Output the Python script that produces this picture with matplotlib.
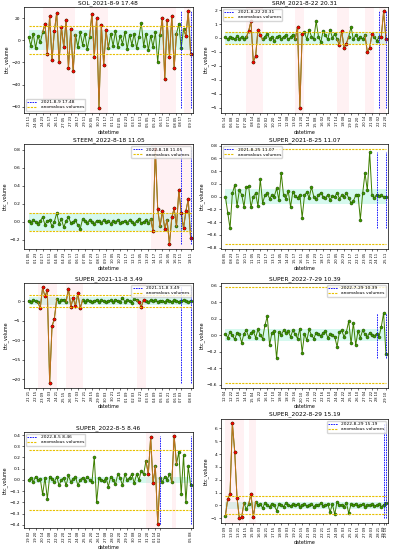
import matplotlib
matplotlib.use("Agg")
import matplotlib.pyplot as plt
import matplotlib.dates as mdates
import numpy as np
import pandas as pd

# values (one list per coin panel)
sol_vals = [3, -5, 6, -7, 4, -2, 7,
            15, -12, 22, -18, 8, 25, -20, 12, -6, 18, -25, 10, -28,
            5, -6, 7, -4, 6, -8, 3,
            24, -15, 20, -61, 14, -22, 9,
            -7, 6, -5, 8, -6, 4, -3, 7, -8, 5, -4, 6, -7, 3, 16, -5, 6, -9, 4, -6, 7, -20, 5,
            20, -35, 18, -15, 22, -25,
            6, 15, -7, 10, 4, 26, -12]
srm_vals = [0.05, -0.1, 0.1, 0.0, -0.08, 0.12, -0.05, 0.08, -0.1, 0.05,
            0.5, 1.2, -1.7, -1.3, 0.6, 0.2,
            -0.1, 0.1, 0.3, -0.05, 0.1, -0.2, 0.05, 0.15, -0.08, 0.1, 0.2, -0.1, 0.05, 0.25, -0.1,
            0.8, -5.0, 0.3,
            0.4, -0.1, 0.6, 0.1, -0.05,
            1.2,
            0.1, -0.3, 0.5, 0.2, -0.1, 0.6, 0.0, 0.3, -0.1,
            -0.5, 0.5, -0.7, -0.4,
            0.1, 0.8, -0.1, 0.2, -0.05, 0.1, -0.1, 0.2,
            -1.0, -0.7, 0.3,
            0.1, -0.2, 0.05, 0.1, 1.9, -0.1]
steem_vals = [0.01, -0.01, 0.02, 0.0, -0.02, 0.01, 0.05, -0.03, 0.01, 0.02,
              -0.05, 0.0, 0.10, -0.02, 0.03, -0.06, 0.01, 0.05, -0.01, 0.0,
              0.02, -0.04, -0.08, 0.03, 0.01, -0.01, 0.02, 0.0, -0.02, 0.01,
              0.01, -0.01, 0.02, 0.0, 0.01, -0.02, 0.01, 0.0, 0.02, -0.01,
              0.0, 0.01, -0.01, 0.02, 0.0, -0.02, 0.01, 0.03, -0.01, 0.0,
              0.02, -0.01, 0.03, -0.1, 0.81, 0.14,
              -0.05, 0.12, -0.08, 0.02,
              -0.25, 0.05, 0.15, -0.05,
              0.35, 0.1, -0.07, 0.12, 0.25, -0.18]
super1_vals = [0.0, -0.25, -0.5, 0.05, 0.18, -0.15, 0.1, 0.03, -0.16, 0.15,
               0.16, -0.17, 0.0, 0.05, -0.15, 0.27, -0.1, 0.02, 0.05, -0.03,
               0.02, 0.0, 0.13, -0.05, 0.37, 0.02, -0.03, 0.09, -0.16, 0.08,
               0.01, -0.02, 0.03, -0.33, 0.02, 0.07, -0.02, 0.15, 0.0, -0.04,
               0.02, 0.06, 0.0, -0.02, 0.03, -0.05, 0.01, 0.0, 0.06, -0.03,
               0.02, 0.0, 0.05, -0.02, -0.1, -0.07, 0.02, 0.03, -0.36, 0.05,
               0.37, 0.1, 0.7, 0.02, -0.02, 0.03, 0.01, 0.02, -0.01, 0.0]
super2_vals = [0.1, -0.2, 0.3, 0.0, -0.3,
               -1.8, 3.5, 1.2, 2.8, -21.0, -6.5, -4.5,
               0.5, -0.3, 0.2, 0.4, -0.2,
               3.2, -1.5, 0.8, -1.2, 2.0, -1.8,
               0.2, -0.1, 0.3, 0.0, -0.2, 0.1, 0.3, -0.1, 0.2, 0.0, -0.2, 0.1,
               0.2, -0.3, 0.4, 0.1, -0.2, 0.9, -0.1, 0.3, 0.0, -0.4, 0.6, 0.2,
               -0.3, -1.5, 0.4,
               0.1, -0.2, 0.3, 0.0, 0.2, -0.1, 0.1, 0.0, -0.2, 0.3, 0.1, -0.1,
               0.2, 0.0, -0.1, 0.1, 0.3, 0.0, -0.2, 0.1]
super3_vals = [0.02, -0.03, 0.04, 0.0, -0.05, 0.03, 0.01, -0.09, 0.02, 0.06,
               -0.02, 0.03, 0.05, -0.03, 0.07, 0.0, -0.04, 0.12, 0.23, -0.12,
               0.03, 0.05, -0.28, 0.04, 0.0, 0.06, 0.03, 0.05, -0.02, 0.06,
               0.01, -0.04, 0.08, -0.21, 0.02, -0.06, 0.07, 0.0, -0.04, 0.03,
               0.02, -0.01, 0.03, 0.05, -0.03, 0.01, 0.0, -0.02, -0.14, 0.04,
               0.06, -0.02, 0.04, 0.17, -0.1, 0.15, -0.12, 0.05, -0.03, 0.06,
               0.01, -0.02, 0.03, 0.0, -0.01, 0.02, -0.02, 0.1, 0.27, -0.23]
super4_vals = [0.0, 0.02, -0.02, 0.03, 0.0, 0.01, -0.13, 0.02, -0.17, 0.03,
               0.01, -0.02, 0.03, -0.05, 0.0, 0.02, -0.05, 0.04, -0.02, 0.01,
               0.03, -0.05, 0.0, 0.02, -0.01, 0.03, 0.0, -0.02, 0.2, -0.2,
               0.02, 0.0, -0.01, 0.02, -0.06, 0.03, 0.0, -0.04, 0.05, 0.02,
               -0.05, 0.05, 0.0, 0.02, 0.05, -0.03, 0.05, 0.0, 0.08, 0.05,
               0.17, 0.05, 0.38, -0.03, 0.12, -0.39,
               0.02, -0.02, 0.03, 0.0, 0.05, -0.02,
               0.39, 0.14, 0.25, -0.13, 0.22, -0.2, 0.12, -0.05]
super5_vals = [-0.8, 0.5, 0.9, 6.4, 4.2, 0.6, -1.0, -0.9,
               0.2, -0.3, 0.1, 0.9, -0.9, 0.3, 0.0,
               0.1, -0.2, 0.2, 0.0, -0.1, 0.15, 0.0, -0.4, 0.1, 0.05, -0.1, 0.2, 0.0, -0.05, 0.1,
               0.0, 0.1, -0.1, 0.05, 0.15, -0.05, 0.0, 0.1, -0.1, 0.05, 0.0, 0.2, -0.05, 0.0, 0.1,
               -0.5, 0.1, -0.7, 0.3, 0.0,
               0.05, -0.1, 0.2, -0.6, 0.1, 0.0, 0.15, -0.05, 0.0, 0.1,
               -0.1, 0.05, 0.0, 0.1, -0.05, 0.0, 0.1, -0.1, 0.05, 0.2]

titles = ["SOL_2021-8-9 17.48", "SRM_2021-8-22 20.31", "STEEM_2022-8-18 11.05",
          "SUPER_2021-8-25 11.07", "SUPER_2021-11-8 3.49", "SUPER_2022-7-29 10.39",
          "SUPER_2022-8-5 8.46", "SUPER_2022-8-29 15.19"]
legend_dates = ["2021-8-9 17.48", "2021-8-22 20.31", "2022-8-18 11.05", "2021-8-25 11.07",
                "2021-11-8 3.49", "2022-7-29 10.39", "2022-8-5 8.46", "2022-8-29 15.19"]
series = [sol_vals, srm_vals, steem_vals, super1_vals,
          super2_vals, super3_vals, super4_vals, super5_vals]
thresholds = [12.5, 0.45, 0.1, 0.75, 1.5, 0.58, 0.27, 0.7]
bands = [9, 0.45, 0.1, 0.12, 1.0, 0.07, 0.03, 0.25]
anomaly_spans = [[(7, 19), (27, 33), (57, 62), (67, 69)],
                 [(10, 15), (31, 33), (49, 52), (61, 63), (67, 69)],
                 [(53, 55), (57, 58), (60, 62), (64, 69)],
                 [],
                 [(5, 11), (17, 22), (47, 49)],
                 [],
                 [(51, 53), (55, 55), (62, 62)],
                 [(1, 7), (11, 12)]]
marker_idx = [(65, 69), (66, 69), (65, 69), (65, 69), (65, 69), (65, 69), (56, 69), (68, 69)]
legend_locs = ["lower left", "upper left", "upper right", "upper left",
               "upper right", "upper right", "upper left", "upper right"]

# axes boxes in figure fractions [left, bottom, width, height]
boxes = [[0.060, 0.795, 0.426, 0.193], [0.556, 0.795, 0.422, 0.193],
         [0.060, 0.547, 0.426, 0.191], [0.556, 0.547, 0.422, 0.191],
         [0.060, 0.295, 0.426, 0.191], [0.556, 0.295, 0.422, 0.191],
         [0.060, 0.040, 0.426, 0.175], [0.556, 0.049, 0.422, 0.190]]

fig = plt.figure(figsize=(3.97, 5.5), dpi=100)

for k in range(8):
    ax = fig.add_axes(boxes[k])
    vals = np.array(series[k])
    n = len(vals)
    end = pd.Timestamp(legend_dates[k].replace(".", ":"))
    x = pd.date_range(end=end, periods=n, freq="6h")
    thr = thresholds[k]
    band = bands[k]

    ax.fill_between(x, -band, band, color="#c4f7e8", alpha=0.7, lw=0)
    for a, b in anomaly_spans[k]:
        ax.axvspan(x[max(a - 1, 0)], x[min(b + 1, n - 1)], color="pink", alpha=0.22, lw=0)

    ax.plot(x, vals, color="#3f7f00", lw=0.7, marker="o", ms=2.2,
            mfc="#3c9a00", mec="#1c3c00", mew=0.3)
    for a, b in anomaly_spans[k]:
        lo, hi = max(a - 1, 0), min(b + 1, n - 1)
        ax.plot(x[lo:hi + 1], vals[lo:hi + 1], color="#c2701e", lw=0.7)
        ax.plot(x[a:b + 1], vals[a:b + 1], ls="none", marker="o", ms=2.2,
                mfc="red", mec="#5a1a00", mew=0.3)

    i1, i2 = marker_idx[k]
    ax.vlines([x[i1], x[i2]], vals.min(), vals.max(), colors="blue",
              linestyles=(0, (2, 1)), lw=0.6, label=legend_dates[k])
    ax.hlines([thr, -thr], x[0], x[-1], colors="#e8c000",
              linestyles=(0, (2, 1)), lw=0.8, label="anomalous volumes")
    ax.legend(loc=legend_locs[k], fontsize=3.2, handlelength=2.2,
              borderpad=0.3, labelspacing=0.2, framealpha=0.8)

    ticks = sorted(set(list(x[:i1 - 1:3]) + [x[i1], x[i2]]))
    ax.set_xticks(ticks)
    ax.xaxis.set_major_formatter(mdates.DateFormatter("%d %H"))
    ax.tick_params(axis="x", labelrotation=90, labelsize=2.6, length=1.5, width=0.4, pad=1)
    ax.tick_params(axis="y", labelsize=3.2, length=1.5, width=0.4, pad=1)
    ax.set_xlim(x[0] - (x[1] - x[0]) * 2, x[-1] + (x[1] - x[0]) * 1)
    ax.set_title(titles[k], fontsize=4.2, pad=2)
    ax.set_xlabel("datetime", fontsize=3.4, labelpad=2)
    ax.set_ylabel("btc_volume", fontsize=3.4, labelpad=1.5)
    for s in ax.spines.values():
        s.set_linewidth(0.5)

fig.savefig("out.png", dpi=100)
